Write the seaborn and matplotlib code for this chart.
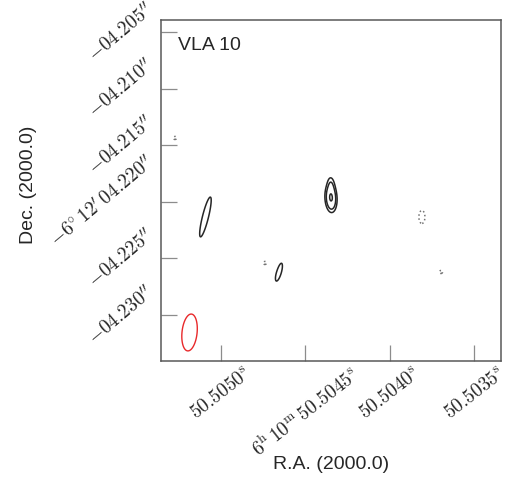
import numpy as np
import matplotlib
matplotlib.use("Agg")
import matplotlib.pyplot as plt
import seaborn as sns

# --- data: VLA 10 contour map (RA seconds of 6h10m, Dec arcsec of -6d12m) ---
src_ra = [50.504349, 50.504349, 50.505092, 50.504657, 50.503811, 50.505272, 50.504740, 50.503698]
src_dec = [-4.219664, -4.218428, -4.221343, -4.226202, -4.221343, -4.214364, -4.225407, -4.226202]
src_peak = [16.0, 4.0, 5.0, 4.0, -3.6, -3.1, -3.1, -3.1]          # in units of rms
src_fwhm_maj = [1.66, 1.25, 4.22, 2.60, 2.25, 1.25, 1.25, 1.25]    # mas
src_fwhm_min = [0.69, 0.52, 0.62, 0.69, 1.04, 1.25, 1.25, 1.25]    # mas
src_pa = [3, 3, -14, -16, 0, 0, 0, 0]                              # deg east of north

beam_ra, beam_dec = 50.505186, -4.231546
beam_maj, beam_min, beam_pa = 3.27, 1.33, -6

levels = [-3, 3, 6, 15]

x_ticks = [50.5050, 50.5045, 50.5040, 50.5035]
x_labels = [r"$50.5050^{\rm s}$", r"$6^{\rm h}\,10^{\rm m}\,50.5045^{\rm s}$",
            r"$50.5040^{\rm s}$", r"$50.5035^{\rm s}$"]
y_ticks = [-4.205, -4.210, -4.215, -4.220, -4.225, -4.230]
y_labels = [r"$-04.205^{\prime\prime}$", r"$-04.210^{\prime\prime}$",
            r"$-04.215^{\prime\prime}$", r"$-6^{\circ}\,12^{\prime}\,04.220^{\prime\prime}$",
            r"$-04.225^{\prime\prime}$", r"$-04.230^{\prime\prime}$"]

ra_lim = (50.505355, 50.503343)
dec_lim = (-4.234064, -4.20394)

sns.set_theme(style="white")
plt.rcParams['font.family'] = ['Liberation Sans', 'DejaVu Sans']
plt.rcParams['mathtext.fontset'] = 'cm'

cosd = np.cos(np.deg2rad(-6.2))
ra = np.linspace(ra_lim[1], ra_lim[0], 700)
dec = np.linspace(dec_lim[0], dec_lim[1], 700)
RA, DEC = np.meshgrid(ra, dec)


def gauss(r0, d0, maj, mn, pa):
    east = (RA - r0) * 15000 * cosd
    north = (DEC - d0) * 1000
    t = np.deg2rad(pa)
    u = east * np.sin(t) + north * np.cos(t)
    v = east * np.cos(t) - north * np.sin(t)
    return np.exp(-4 * np.log(2) * ((u / maj) ** 2 + (v / mn) ** 2))


Z = np.zeros_like(RA)
for i in range(len(src_ra)):
    Z += src_peak[i] * gauss(src_ra[i], src_dec[i], src_fwhm_maj[i], src_fwhm_min[i], src_pa[i])

B = gauss(beam_ra, beam_dec, beam_maj, beam_min, beam_pa)

fig = plt.figure(figsize=(5.21, 4.78), dpi=100)
ax = fig.add_axes([0.309, 0.2448, 0.6526, 0.7134])

ax.contour(RA, DEC, Z, levels=levels, colors=['0.45', '0.15', '0.15', '0.15'],
           linestyles=[':', '-', '-', '-'], linewidths=1.1)
ax.contour(RA, DEC, B, levels=[0.5], colors='#e8292b', linewidths=1.0)

ax.set_xlim(*ra_lim)
ax.set_ylim(*dec_lim)
ax.set_xticks(x_ticks)
ax.set_xticklabels(x_labels, rotation=38, fontsize=14, ha='center', va='top')
ax.set_yticks(y_ticks)
ax.set_yticklabels(y_labels, rotation=40, fontsize=14, ha='right', va='center')
ax.tick_params(axis='both', direction='in', length=11.5, width=0.9, color='0.55',
               bottom=True, left=True, top=False, right=False)
ax.tick_params(axis='y', pad=2)
ax.tick_params(axis='x', pad=2.5)
for sp in ax.spines.values():
    sp.set_color('0.35')
    sp.set_linewidth(1.1)

ax.set_xlabel("R.A. (2000.0)", fontsize=14, va='center')
ax.set_ylabel("Dec. (2000.0)", fontsize=14, va='center')
ax.xaxis.set_label_coords(0.5, -0.305)
ax.yaxis.set_label_coords(-0.39, 0.516)
ax.text(0.05, 0.95, "VLA 10", transform=ax.transAxes, fontsize=14, va='top', ha='left')

fig.savefig("out.png", dpi=100)
